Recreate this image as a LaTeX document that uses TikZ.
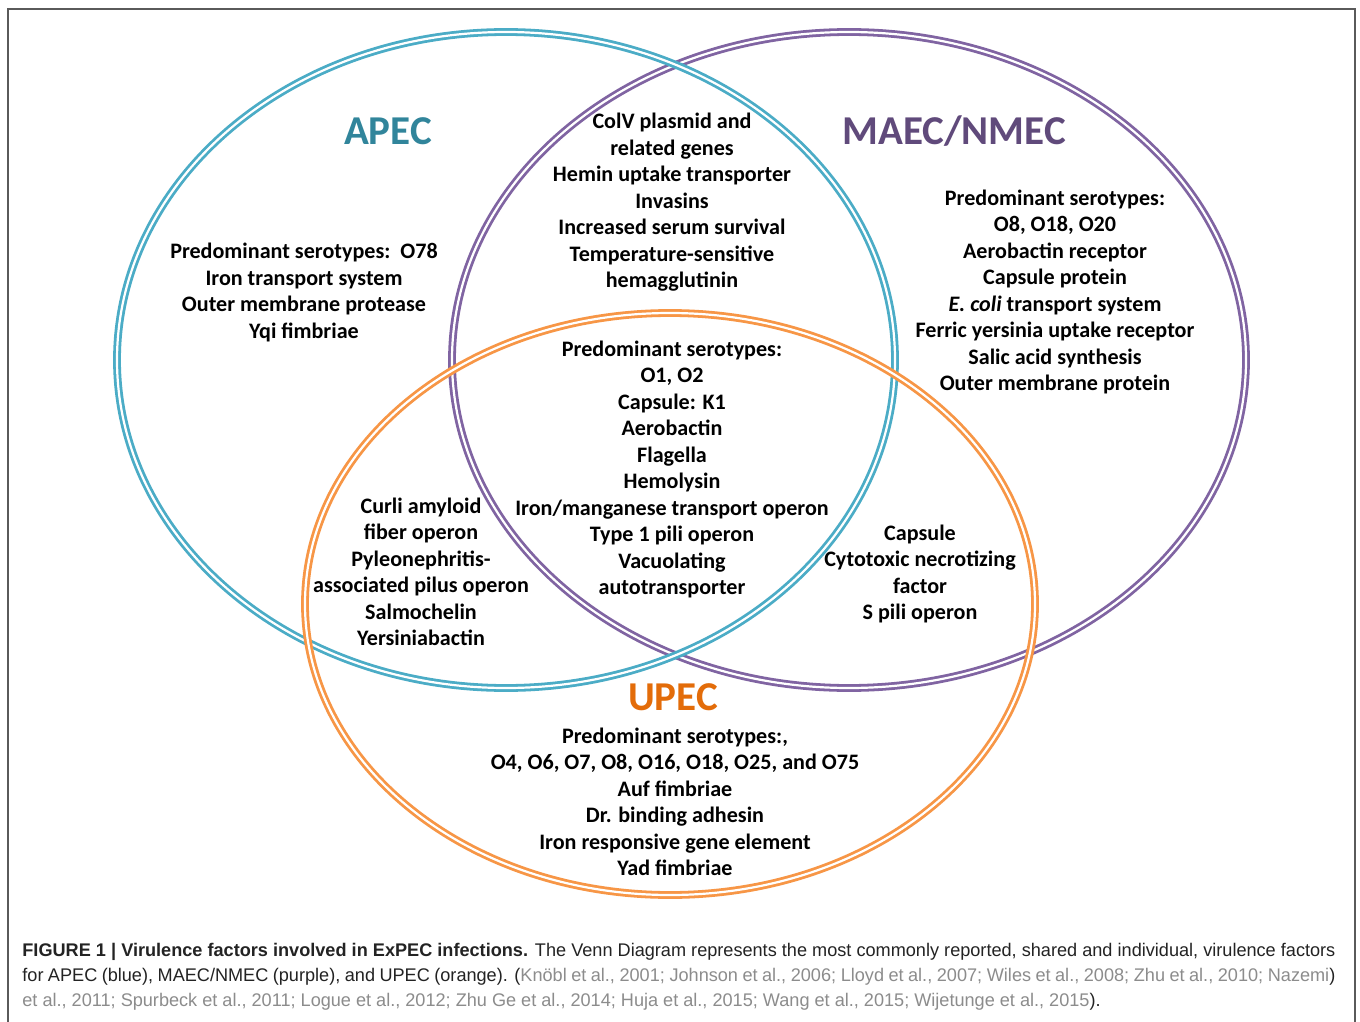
\documentclass[tikz,border=0pt]{standalone}
\usepackage{fontspec}
\setmainfont{Carlito}
\newfontfamily\capfont[FakeStretch=0.99]{Liberation Sans}
\definecolor{apecline}{RGB}{75,172,198}
\definecolor{apectitle}{RGB}{49,133,155}
\definecolor{maecline}{RGB}{128,100,162}
\definecolor{maectitle}{RGB}{96,74,123}
\definecolor{upecline}{RGB}{247,150,70}
\definecolor{upectitle}{RGB}{227,108,9}
\definecolor{reftext}{RGB}{140,140,140}
\definecolor{captext}{RGB}{35,35,35}
\definecolor{framecol}{RGB}{90,90,90}
\tikzset{
  ring/.style={line width=1.4pt, double=white, double distance=1.1pt},
  body/.style={align=center, inner sep=0pt, text=black,
    font=\fontsize{11.05pt}{13.25pt}\selectfont\bfseries},
  title/.style={inner sep=0pt, font=\fontsize{20.5pt}{25pt}\selectfont\bfseries},
  capline/.style={anchor=west, inner sep=0pt, text=captext,
    font=\capfont\fontsize{9.15pt}{12.5pt}\selectfont}
}
\begin{document}
\begin{tikzpicture}[x=0.5pt,y=-0.5pt]
\useasboundingbox (0,0) rectangle (1360,1022);
\fill[white] (0,0) rectangle (1360,1022);
\draw[framecol, line width=1pt] (8,1040) -- (8,9) -- (1355,9) -- (1355,1040);

% Venn rings
\draw[ring, draw=maecline] (849,360) ellipse [x radius=198.5pt, y radius=164pt];
\draw[ring, draw=apecline] (506,360) ellipse [x radius=194.5pt, y radius=164pt];
\draw[ring, draw=upecline] (670,604) ellipse [x radius=182.5pt, y radius=145.5pt];

% titles
\node[title, text=apectitle] (tapec) at (388,131) {APEC};
\node[title, text=maectitle] (tmaec) at (954,131) {MAEC/NMEC};
\node[title, text=upectitle] (tupec) at (673,697) {UPEC};

% region texts
\node[body] (apec) at (304,292.5) {Predominant serotypes:\ \ O78\\Iron transport system\\Outer membrane protease\\Yqi fimbriae};
\node[body] (am) at (672,202.5) {ColV plasmid and\\related genes\\Hemin uptake transporter\\Invasins\\Increased serum survival\\Temperature-sensitive\\hemagglutinin};
\node[body] (maec) at (1055,292) {Predominant serotypes:\\O8, O18, O20\\Aerobactin receptor\\Capsule protein\\\textit{E. coli} transport system\\Ferric yersinia uptake receptor\\Salic acid synthesis\\Outer membrane protein};
\node[body] (all) at (672,469.5) {Predominant serotypes:\\O1, O2\\Capsule: K1\\Aerobactin\\Flagella\\Hemolysin\\Iron/manganese transport operon\\Type 1 pili operon\\Vacuolating\\autotransporter};
\node[body] (au) at (421,572) {Curli amyloid\\fiber operon\\Pyleonephritis-\\associated pilus operon\\Salmochelin\\Yersiniabactin};
\node[body] (mu) at (920,574) {Capsule\\Cytotoxic necrotizing\\factor\\S pili operon};
\node[body] (upec) at (675,802) {Predominant serotypes:,\\O4, O6, O7, O8, O16, O18, O25, and O75\\Auf fimbriae\\Dr. binding adhesin\\Iron responsive gene element\\Yad fimbriae};

% caption
\node[capline] (cap1) at (22,952) {\makebox[656.5pt][s]{\textbf{FIGURE 1 | Virulence factors involved in ExPEC infections.} The Venn Diagram represents the most commonly reported, shared and individual, virulence factors}};
\node[capline] (cap2) at (22,977) {\makebox[656.5pt][s]{for APEC (blue), MAEC/NMEC (purple), and UPEC (orange). (\textcolor{reftext}{Knöbl et al., 2001; Johnson et al., 2006; Lloyd et al., 2007; Wiles et al., 2008; Zhu et al., 2010; Nazemi})}};
\node[capline] (cap3) at (22,1002) {\textcolor{reftext}{et al., 2011; Spurbeck et al., 2011; Logue et al., 2012; Zhu Ge et al., 2014; Huja et al., 2015; Wang et al., 2015; Wijetunge et al., 2015}).};
\end{tikzpicture}
\end{document}
